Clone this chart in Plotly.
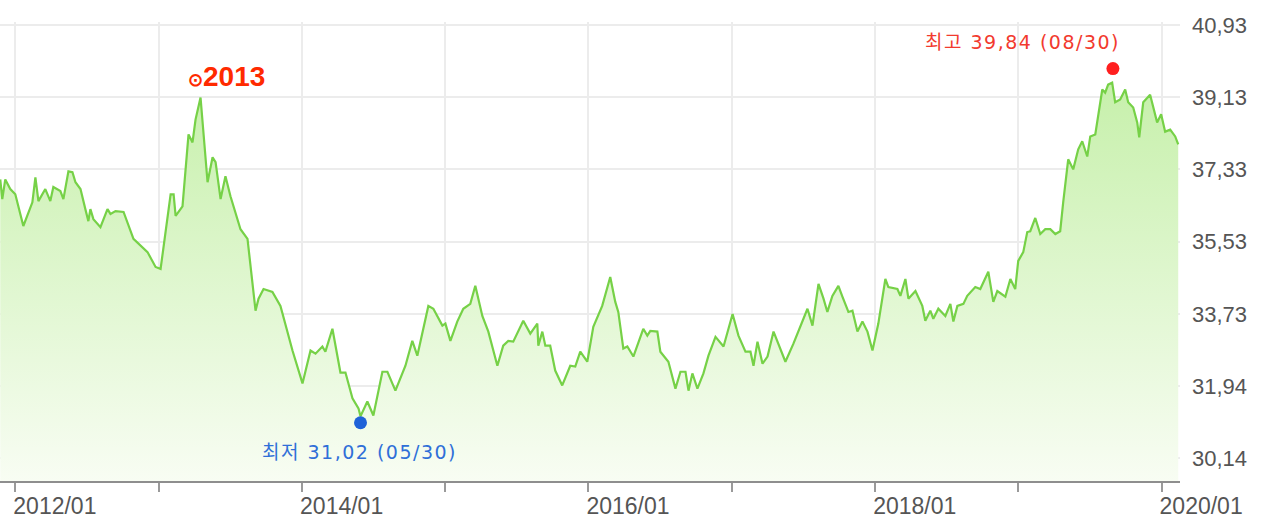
import pandas as pd
import plotly.graph_objects as go

# price history (decimal year, price)
years = [
    2011.895, 2011.909, 2011.930, 2011.965, 2012.000, 2012.056, 2012.119, 2012.140, 2012.161, 2012.209,
    2012.244, 2012.265, 2012.314, 2012.335, 2012.370, 2012.398, 2012.419, 2012.454, 2012.488, 2012.509,
    2012.523, 2012.544, 2012.593, 2012.642, 2012.663, 2012.698, 2012.754, 2012.823, 2012.921, 2012.977,
    2013.012, 2013.082, 2013.103, 2013.117, 2013.165, 2013.207, 2013.235, 2013.256, 2013.291, 2013.340,
    2013.375, 2013.396, 2013.431, 2013.465, 2013.500, 2013.549, 2013.570, 2013.619, 2013.661, 2013.675,
    2013.696, 2013.731, 2013.793, 2013.849, 2013.933, 2014.003, 2014.059, 2014.094, 2014.142, 2014.163,
    2014.212, 2014.268, 2014.303, 2014.352, 2014.394, 2014.408, 2014.456, 2014.498, 2014.561, 2014.596,
    2014.652, 2014.722, 2014.770, 2014.805, 2014.882, 2014.917, 2014.980, 2015.001, 2015.036, 2015.084,
    2015.126, 2015.175, 2015.210, 2015.231, 2015.259, 2015.301, 2015.364, 2015.405, 2015.440, 2015.475,
    2015.545, 2015.594, 2015.643, 2015.650, 2015.678, 2015.699, 2015.733, 2015.768, 2015.817, 2015.873,
    2015.908, 2015.943, 2015.992, 2016.034, 2016.096, 2016.152, 2016.187, 2016.208, 2016.243, 2016.271,
    2016.313, 2016.382, 2016.410, 2016.431, 2016.480, 2016.501, 2016.536, 2016.557, 2016.606, 2016.641,
    2016.676, 2016.697, 2016.724, 2016.759, 2016.801, 2016.836, 2016.885, 2016.941, 2017.004, 2017.045,
    2017.094, 2017.129, 2017.150, 2017.178, 2017.213, 2017.248, 2017.290, 2017.339, 2017.373, 2017.429,
    2017.478, 2017.527, 2017.562, 2017.604, 2017.639, 2017.666, 2017.701, 2017.743, 2017.771, 2017.813,
    2017.841, 2017.876, 2017.911, 2017.946, 2017.981, 2018.022, 2018.071, 2018.092, 2018.155, 2018.176,
    2018.211, 2018.232, 2018.281, 2018.329, 2018.350, 2018.385, 2018.406, 2018.441, 2018.490, 2018.525,
    2018.546, 2018.574, 2018.616, 2018.643, 2018.699, 2018.734, 2018.790, 2018.825, 2018.853, 2018.909,
    2018.944, 2018.978, 2018.999, 2019.034, 2019.062, 2019.083, 2019.118, 2019.153, 2019.188, 2019.223,
    2019.258, 2019.292, 2019.313, 2019.348, 2019.383, 2019.418, 2019.446, 2019.481, 2019.502, 2019.537,
    2019.586, 2019.606, 2019.627, 2019.655, 2019.676, 2019.711, 2019.746, 2019.767, 2019.802, 2019.830,
    2019.844, 2019.872, 2019.920, 2019.969, 2019.997, 2020.025, 2020.060, 2020.095, 2020.116,
]
prices = [
    37.08, 36.59, 37.08, 36.84, 36.71, 35.92, 36.51, 37.13, 36.54, 36.84,
    36.54, 36.89, 36.79, 36.59, 37.28, 37.26, 37.01, 36.84, 36.34, 36.04,
    36.34, 36.09, 35.89, 36.34, 36.22, 36.29, 36.27, 35.60, 35.27, 34.90,
    34.85, 36.71, 36.71, 36.17, 36.41, 38.20, 38.00, 38.57, 39.12, 37.01,
    37.63, 37.51, 36.59, 37.16, 36.66, 36.09, 35.84, 35.60, 34.35, 33.81,
    34.11, 34.35, 34.28, 33.93, 32.82, 32.00, 32.82, 32.74, 32.92, 32.79,
    33.36, 32.27, 32.27, 31.63, 31.38, 31.18, 31.55, 31.20, 32.29, 32.29,
    31.82, 32.44, 33.06, 32.69, 33.93, 33.86, 33.44, 33.49, 33.06, 33.54,
    33.86, 33.98, 34.43, 34.11, 33.68, 33.29, 32.44, 32.94, 33.06, 33.04,
    33.56, 33.24, 33.49, 32.94, 33.29, 32.94, 32.94, 32.32, 31.95, 32.44,
    32.42, 32.79, 32.54, 33.41, 33.93, 34.65, 34.03, 33.78, 32.87, 32.92,
    32.67, 33.36, 33.19, 33.31, 33.29, 32.79, 32.62, 32.54, 31.87, 32.29,
    32.29, 31.82, 32.25, 31.87, 32.25, 32.69, 33.16, 32.92, 33.73, 33.19,
    32.79, 32.79, 32.44, 33.04, 32.49, 32.67, 33.29, 32.87, 32.54, 32.99,
    33.41, 33.86, 33.44, 34.48, 34.11, 33.78, 34.18, 34.43, 34.16, 33.78,
    33.81, 33.29, 33.54, 33.29, 32.82, 33.49, 34.60, 34.40, 34.35, 34.18,
    34.60, 34.11, 34.30, 33.93, 33.56, 33.81, 33.61, 33.86, 33.68, 33.98,
    33.54, 33.93, 33.98, 34.18, 34.40, 34.35, 34.78, 34.03, 34.30, 34.16,
    34.60, 34.35, 35.05, 35.27, 35.77, 35.79, 36.12, 35.72, 35.84, 35.84,
    35.72, 35.79, 36.51, 37.58, 37.33, 37.83, 38.03, 37.65, 38.15, 38.20,
    39.32, 39.24, 39.44, 39.49, 39.00, 39.07, 39.32, 39.00, 38.87, 38.50,
    38.13, 39.00, 39.19, 38.50, 38.70, 38.27, 38.32, 38.15, 37.95,
]

high_date, high_value, high_label = "2019-08-30", 39.84, "최고 39,84 (08/30)"
low_date, low_value, low_label = "2014-05-30", 31.02, "최저 31,02 (05/30)"

y_ticks = [30.14, 31.94, 33.73, 35.53, 37.33, 39.13, 40.93]
x_years = list(range(2012, 2021))


def to_date(y):
    start = pd.Timestamp(int(y), 1, 1)
    end = pd.Timestamp(int(y) + 1, 1, 1)
    return start + (end - start) * (y - int(y))


dates = [to_date(y) for y in years]

y_min, y_max = 29.57, 41.0
label_font = "DejaVu Sans, Noto Sans CJK KR"

fig = go.Figure()
fig.add_trace(go.Scatter(
    x=dates, y=prices, mode="lines",
    line=dict(color="#76d147", width=2.2),
    fill="tozeroy",
    fillgradient=dict(type="vertical", start=y_min, stop=y_max,
                      colorscale=[[0, "#f8fdf3"], [1, "#bfeea0"]]),
    hoverinfo="skip",
))
fig.add_trace(go.Scatter(
    x=[high_date], y=[high_value], mode="markers",
    marker=dict(color="#ff1f1f", size=13), hoverinfo="skip",
))
fig.add_trace(go.Scatter(
    x=[low_date], y=[low_value], mode="markers",
    marker=dict(color="#1f62d8", size=13), hoverinfo="skip",
))

fig.add_annotation(x=high_date, y=high_value,
                   text=f'<span style="letter-spacing:1.5px">{high_label}</span>',
                   showarrow=False, xanchor="right", yanchor="middle", xshift=9, yshift=27,
                   font=dict(family=label_font, size=19, color="#f23a2e"))
fig.add_annotation(x=low_date, y=low_value,
                   text=f'<span style="letter-spacing:1.5px">{low_label}</span>',
                   showarrow=False, xanchor="center", yanchor="middle", xshift=-1, yshift=-29,
                   font=dict(family=label_font, size=19, color="#2f6fd8"))
fig.add_annotation(x=to_date(2013.186), y=39.64,
                   text='<span style="font-size:18px">⊙</span>2013',
                   showarrow=False, xanchor="left", yanchor="middle",
                   font=dict(family="Liberation Sans", size=28, color="#ff2a00", weight="bold"))

fig.update_layout(
    width=1280, height=527,
    margin=dict(l=0, r=100, t=22, b=46),
    paper_bgcolor="white", plot_bgcolor="white",
    showlegend=False,
    xaxis=dict(
        type="date",
        range=["2011-11-23", "2020-02-17"],
        tickvals=[f"{y}-01-01" for y in x_years],
        ticktext=[f"{y}/01" if y % 2 == 0 else "" for y in x_years],
        ticklabelposition="outside right",
        ticklabelshift=-4, ticklabelstandoff=3,
        ticks="outside", ticklen=9, tickwidth=2, tickcolor="#9a9a9a",
        showgrid=True, gridcolor="#ececec", gridwidth=2,
        showline=True, linecolor="#8e8e8e", linewidth=2,
        tickfont=dict(family="Liberation Sans", size=23, color="#555555"),
        zeroline=False,
    ),
    yaxis=dict(
        side="right",
        range=[y_min, y_max],
        tickvals=y_ticks,
        ticktext=[f"{v:.2f}".replace(".", ",") for v in y_ticks],
        showgrid=True, gridcolor="#ececec", gridwidth=2,
        showline=False, ticks="", ticklabelstandoff=11,
        tickfont=dict(family="Liberation Sans", size=22, color="#555555"),
        zeroline=False,
    ),
)

fig.write_html("out.html", config={"displayModeBar": False},
               post_script="document.body.style.margin = '0';")
